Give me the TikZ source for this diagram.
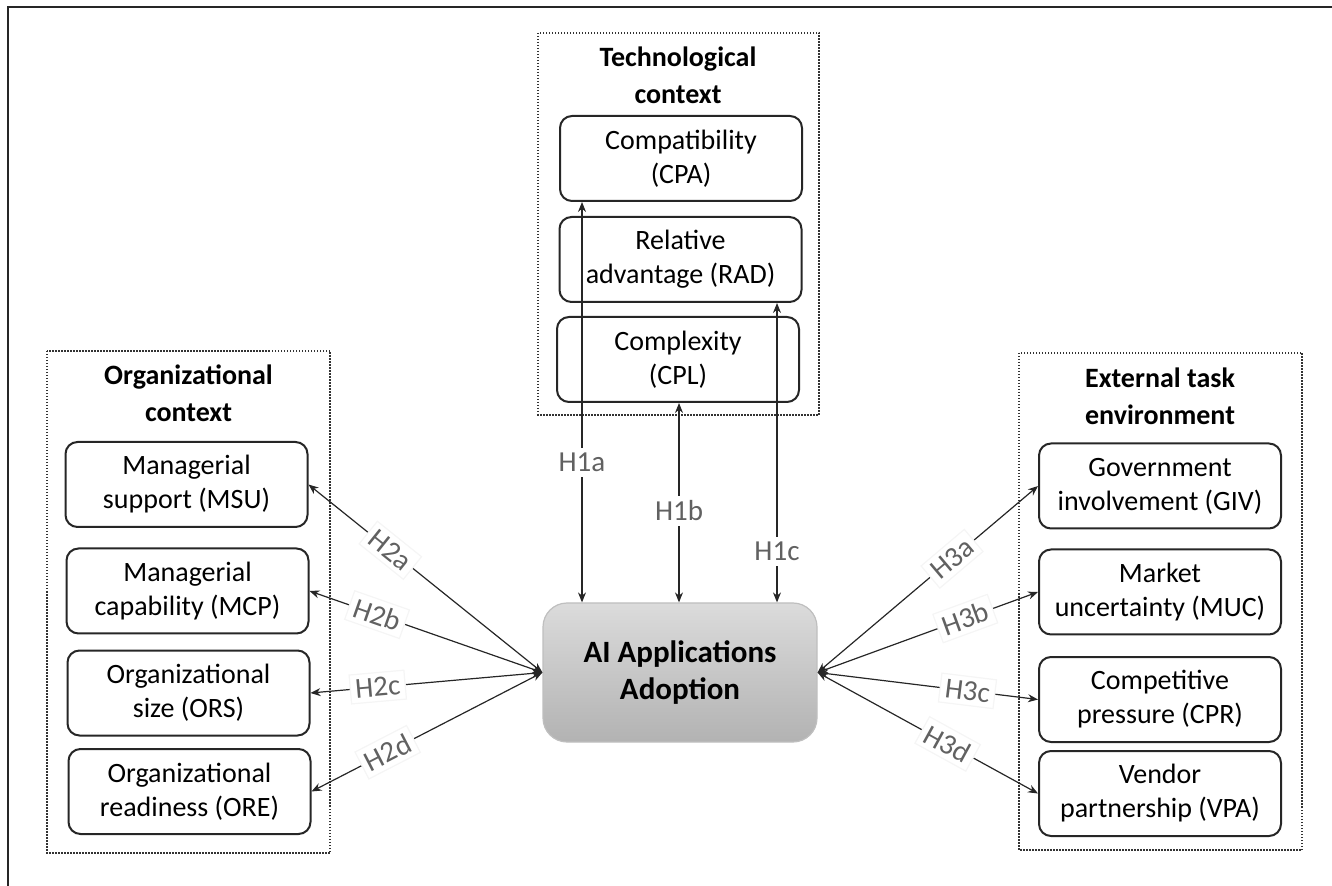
\documentclass[tikz,border=0pt]{standalone}
\usepackage{fontspec}
\setmainfont{Carlito}
\usetikzlibrary{arrows.meta}

\begin{document}
\begin{tikzpicture}[x=0.5pt,y=-0.5pt,line width=0.6pt,>={Stealth[length=5pt,width=4pt]},
  factor/.style={draw=black!85,line width=1pt,rounded corners=6pt,minimum width=121pt,minimum height=42.5pt,align=center,inner sep=0pt,font=\fontsize{14}{17}\selectfont},
  ctx/.style={draw=black!80,line width=0.75pt,dash pattern=on 0.75pt off 0.75pt},
  ctxtitle/.style={align=center,font=\fontsize{14}{18.5}\selectfont\bfseries},
  hyp/.style={fill=white,draw=black!4,inner sep=2.5pt,text=black!62,font=\fontsize{14.5}{17}\selectfont},
  link/.style={<->,draw=black!85}]
  \useasboundingbox (0,0) rectangle (1332,886);
  \draw[line width=1pt,black!85] (8,886) -- (8,7) -- (1332,7);
  % technological context
  \draw[ctx] (538,33) rectangle (819,415);
  \node[ctxtitle] (tech) at (678,75) {Technological\\context};
  \node[factor] (cpa) at (681,158.5) {Compatibility\\(CPA)};
  \node[factor] (rad) at (680.5,259.5) {Relative\\advantage (RAD)};
  \node[factor] (cpl) at (678,359.5) {Complexity\\(CPL)};
  % organizational context
  \draw[ctx] (47,351) rectangle (330,853);
  \node[ctxtitle] (org) at (188.5,393.5) {Organizational\\context};
  \node[factor] (msu) at (186.5,484.5) {Managerial\\support (MSU)};
  \node[factor] (mcp) at (187.5,591) {Managerial\\capability (MCP)};
  \node[factor] (ors) at (188.5,693) {Organizational\\size (ORS)};
  \node[factor] (ore) at (189.5,791.5) {Organizational\\readiness (ORE)};
  % external task environment
  \draw[ctx] (1019,353) rectangle (1302,850);
  \node[ctxtitle] (ext) at (1160,396.5) {External task\\environment};
  \node[factor] (giv) at (1160,486) {Government\\involvement (GIV)};
  \node[factor] (muc) at (1160,592) {Market\\uncertainty (MUC)};
  \node[factor] (cpr) at (1160,699.5) {Competitive\\pressure (CPR)};
  \node[factor] (vpa) at (1160,793.5) {Vendor\\partnership (VPA)};
  % adoption
  \node[draw=black!25,top color=black!14,bottom color=black!30,rounded corners=12pt,minimum width=137pt,minimum height=69.5pt,align=center,font=\fontsize{15.5}{18.5}\selectfont\bfseries] (ai) at (680,672.5) {AI Applications\\Adoption};
  % hypotheses
  \coordinate (x1a) at (582,0);
  \coordinate (x1b) at (679,0);
  \coordinate (x1c) at (777,0);
  \draw[link] (ai.north -| x1a) -- node[hyp,pos=0.35,draw=none] {H1a} (cpa.south -| x1a);
  \draw[link] (ai.north -| x1b) -- node[hyp,pos=0.46,draw=none] {H1b} (cpl.south -| x1b);
  \draw[link] (ai.north -| x1c) -- node[hyp,pos=0.17,draw=none] {H1c} (rad.south -| x1c);
  \draw[link] (ai.west) -- node[hyp,pos=0.65,sloped] {H2a} (msu.east);
  \draw[link] (ai.west) -- node[hyp,pos=0.71,sloped] {H2b} (mcp.east);
  \draw[link] (ai.west) -- node[hyp,pos=0.71,sloped] {H2c} (ors.east);
  \draw[link] (ai.west) -- node[hyp,pos=0.67,sloped] {H2d} (ore.east);
  \draw[link] (ai.east) -- node[hyp,pos=0.61,sloped] {H3a} (giv.west);
  \draw[link] (ai.east) -- node[hyp,pos=0.67,sloped] {H3b} (muc.west);
  \draw[link] (ai.east) -- node[hyp,pos=0.68,sloped] {H3c} (cpr.west);
  \draw[link] (ai.east) -- node[hyp,pos=0.59,sloped] {H3d} (vpa.west);
\end{tikzpicture}
\end{document}
